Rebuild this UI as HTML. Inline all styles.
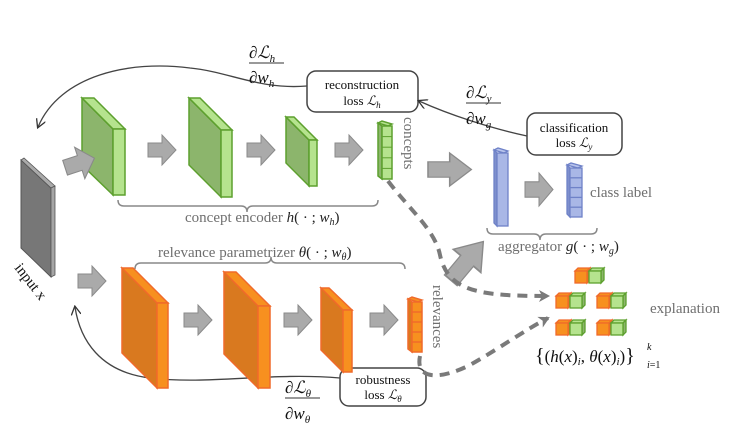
<!DOCTYPE html>
<html><head><meta charset="utf-8"><style>
html,body{margin:0;padding:0;background:#fff}
svg{display:block}
text{font-family:"Liberation Serif",serif}
.g{fill:#6f6f6f}
</style></head><body>
<svg width="743" height="425" viewBox="0 0 743 425" xmlns="http://www.w3.org/2000/svg">
<defs>
<marker id="ah" markerWidth="10" markerHeight="10" refX="8" refY="5" orient="auto" markerUnits="userSpaceOnUse"><path d="M0,0 L9,5 L0,10" fill="none" stroke="#333" stroke-width="1.3"/></marker>
<marker id="dh" markerWidth="12" markerHeight="12" refX="9" refY="6" orient="auto" markerUnits="userSpaceOnUse"><path d="M0,0 L11,6 L0,12 L3,6 Z" fill="#7a7a7a"/></marker>
<g id="arr"><path d="M0,8 H14 V0 L28,15 L14,30 V22 H0 Z" fill="#aaa" stroke="#8a8a8a" stroke-width="1"/></g>
<g id="pair" stroke-width="1.3">
<polygon points="0,3 3,0 15,0 12,3" fill="#f7901f" stroke="#f06a2a"/>
<polygon points="12,3 15,0 15,12 12,15" fill="#d9791f" stroke="#f06a2a"/>
<rect x="0" y="3" width="12" height="12" fill="#f7901f" stroke="#f06a2a"/>
<polygon points="14,3 17,0 29,0 26,3" fill="#b5e38e" stroke="#5da02e"/>
<polygon points="26,3 29,0 29,12 26,15" fill="#8cb56c" stroke="#5da02e"/>
<rect x="14" y="3" width="12" height="12" fill="#b5e38e" stroke="#5da02e"/>
</g>
</defs>

<!-- input slab -->
<polygon points="21,160 51,188 51,277 21,248" fill="#777" stroke="#555" stroke-width="1"/>
<polygon points="21,160 24,158 55,186 51,188" fill="#aaa" stroke="#555" stroke-width="0.8"/>
<polygon points="51,188 55,186 55,275 51,277" fill="#a5a5a5" stroke="#555" stroke-width="0.8"/>
<text x="0" y="0" font-size="15" fill="#111" transform="translate(14,268) rotate(52)">input x</text>

<!-- green layers -->
<g stroke="#5da02e" stroke-width="1.5">
<polygon points="82,98 113,129 113,195 82,165" fill="#8cb56c"/>
<polygon points="82,98 94,98 125,129 113,129" fill="#b5e38e"/>
<rect x="113" y="129" width="12" height="66" fill="#b5e38e"/>
<polygon points="189,98 221,130 221,197 189,165" fill="#8cb56c"/>
<polygon points="189,98 200,98 232,130 221,130" fill="#b5e38e"/>
<rect x="221" y="130" width="11" height="67" fill="#b5e38e"/>
<polygon points="286,117 309,140 309,186 286,163" fill="#8cb56c"/>
<polygon points="286,117 294,117 317,140 309,140" fill="#b5e38e"/>
<rect x="309" y="140" width="8" height="46" fill="#b5e38e"/>
<polygon points="378,123 382,121 392,124 388,126" fill="#b5e38e"/>
<polygon points="378,123 382,126 382,179 378,176" fill="#8cb56c"/>
<rect x="382" y="126" width="10" height="53" fill="#b5e38e"/>
</g>
<g stroke="#5da02e" stroke-width="1"><line x1="382" y1="136.6" x2="392" y2="136.6"/><line x1="382" y1="147.2" x2="392" y2="147.2"/><line x1="382" y1="157.8" x2="392" y2="157.8"/><line x1="382" y1="168.4" x2="392" y2="168.4"/></g>
<text font-size="15" fill="#6f6f6f" transform="translate(404,117) rotate(90)">concepts</text>

<!-- arrows top -->
<use href="#arr" transform="translate(60,152) rotate(-18) scale(1.1)"/>
<use href="#arr" transform="translate(148,135)"/>
<use href="#arr" transform="translate(247,135)"/>
<use href="#arr" transform="translate(335,135)"/>
<use href="#arr" transform="translate(428,153) scale(1.55,1.1)"/>
<use href="#arr" transform="translate(525,173) scale(1,1.1)"/>

<!-- brace concept encoder -->
<path d="M118,200 q0,6 6,6 H241 q6,0 6,6 q0,-6 6,-6 H372 q6,0 6,-6" fill="none" stroke="#888" stroke-width="1.5"/>
<text x="185" y="222" font-size="15" class="g">concept encoder <tspan font-style="italic" fill="#222">h</tspan><tspan fill="#222">( · ; <tspan font-style="italic">w</tspan><tspan font-size="10" font-style="italic" dy="3">h</tspan><tspan dy="-3">)</tspan></tspan></text>

<!-- aggregator -->
<g stroke="#6f82c8" stroke-width="1.3">
<polygon points="494,150 498,148 508,151 504,153" fill="#b8c4ec"/>
<polygon points="494,150 497,153 497,226 494,223" fill="#7f90cc"/>
<rect x="497" y="153" width="11" height="73" fill="#a9b7e6"/>
<polygon points="567,165 571,163 582,166 578,168" fill="#b8c4ec"/>
<polygon points="567,165 570,168 570,217 567,214" fill="#7f90cc"/>
<rect x="570" y="168" width="12" height="49" fill="#a9b7e6"/>
<line x1="570" y1="177.8" x2="582" y2="177.8"/><line x1="570" y1="187.6" x2="582" y2="187.6"/><line x1="570" y1="197.4" x2="582" y2="197.4"/><line x1="570" y1="207.2" x2="582" y2="207.2"/>
</g>
<text x="590" y="197" font-size="15" class="g">class label</text>
<path d="M487,228 q0,6 6,6 H534 q6,0 6,6 q0,-6 6,-6 H591 q6,0 6,-6" fill="none" stroke="#888" stroke-width="1.5"/>
<text x="498" y="251" font-size="15" class="g">aggregator <tspan font-style="italic" fill="#222">g</tspan><tspan fill="#222">( · ; <tspan font-style="italic">w</tspan><tspan font-size="10" font-style="italic" dy="3">g</tspan><tspan dy="-3">)</tspan></tspan></text>

<!-- loss boxes -->
<rect x="307" y="71" width="111" height="41" rx="9" fill="#fff" stroke="#444" stroke-width="1.5"/>
<text x="362" y="89" font-size="13" text-anchor="middle" fill="#111">reconstruction</text>
<text x="362" y="105" font-size="13" text-anchor="middle" fill="#111">loss <tspan font-style="italic">ℒ</tspan><tspan font-size="9" font-style="italic" dy="3">h</tspan></text>
<rect x="527" y="113" width="95" height="42" rx="9" fill="#fff" stroke="#444" stroke-width="1.5"/>
<text x="574" y="132" font-size="13" text-anchor="middle" fill="#111">classification</text>
<text x="574" y="147" font-size="13" text-anchor="middle" fill="#111">loss <tspan font-style="italic">ℒ</tspan><tspan font-size="9" font-style="italic" dy="3">y</tspan></text>
<rect x="340" y="368" width="86" height="38" rx="9" fill="#fff" stroke="#444" stroke-width="1.5"/>
<text x="383" y="384" font-size="13" text-anchor="middle" fill="#111">robustness</text>
<text x="383" y="399" font-size="13" text-anchor="middle" fill="#111">loss <tspan font-style="italic">ℒ</tspan><tspan font-size="9" font-style="italic" dy="3">θ</tspan></text>

<!-- gradient curves -->
<path d="M307,86 C260,90 230,72 190,68 C130,60 60,75 38,127" fill="none" stroke="#444" stroke-width="1.3" marker-end="url(#ah)"/>
<path d="M527,136 C490,128 450,115 419,101" fill="none" stroke="#444" stroke-width="1.3" marker-end="url(#ah)"/>
<path d="M340,378 C270,372 210,385 150,378 C100,372 80,340 75,307" fill="none" stroke="#444" stroke-width="1.3" marker-end="url(#ah)"/>

<!-- fractions -->
<g font-size="17" fill="#111" font-style="italic">
<text x="249" y="58">∂ℒ<tspan font-size="11" dy="4">h</tspan></text>
<line x1="249" y1="63" x2="284" y2="63" stroke="#333" stroke-width="1"/>
<text x="249" y="83">∂w<tspan font-size="11" dy="4">h</tspan></text>
<text x="466" y="98">∂ℒ<tspan font-size="11" dy="4">y</tspan></text>
<line x1="466" y1="103" x2="501" y2="103" stroke="#333" stroke-width="1"/>
<text x="466" y="124">∂w<tspan font-size="11" dy="4">g</tspan></text>
<text x="285" y="393">∂ℒ<tspan font-size="11" dy="4">θ</tspan></text>
<line x1="285" y1="398" x2="320" y2="398" stroke="#333" stroke-width="1"/>
<text x="285" y="419">∂w<tspan font-size="11" dy="4">θ</tspan></text>
</g>

<!-- relevance brace & text -->
<text x="158" y="257" font-size="15" class="g">relevance parametrizer <tspan font-style="italic" fill="#222">θ</tspan><tspan fill="#222">( · ; <tspan font-style="italic">w</tspan><tspan font-size="10" font-style="italic" dy="3">θ</tspan><tspan dy="-3">)</tspan></tspan></text>
<path d="M135,269 q0,-6 6,-6 H265 q6,0 6,-6 q0,6 6,6 H399 q6,0 6,6" fill="none" stroke="#888" stroke-width="1.5"/>

<!-- orange layers -->
<g stroke="#f06a2a" stroke-width="1.5">
<polygon points="122,268 157,303 157,388 122,353" fill="#d9791f"/>
<polygon points="122,268 133,268 168,303 157,303" fill="#f7901f"/>
<rect x="157" y="303" width="11" height="85" fill="#f7901f"/>
<polygon points="224,272 258,306 258,388 224,354" fill="#d9791f"/>
<polygon points="224,272 236,272 270,306 258,306" fill="#f7901f"/>
<rect x="258" y="306" width="12" height="82" fill="#f7901f"/>
<polygon points="321,288 343,310 343,372 321,350" fill="#d9791f"/>
<polygon points="321,288 329,288 352,310 343,310" fill="#f7901f"/>
<rect x="343" y="310" width="9" height="62" fill="#f7901f"/>
<polygon points="408,299 412,297 422,300 418,302" fill="#f7901f"/>
<polygon points="408,299 412,302 412,352 408,349" fill="#d9791f"/>
<rect x="412" y="302" width="10" height="50" fill="#f7901f"/>
<line x1="412" y1="312" x2="422" y2="312"/><line x1="412" y1="322" x2="422" y2="322"/><line x1="412" y1="332" x2="422" y2="332"/><line x1="412" y1="342" x2="422" y2="342"/>
</g>
<text font-size="15" fill="#6f6f6f" transform="translate(433,285) rotate(90)">relevances</text>

<!-- arrows bottom -->
<use href="#arr" transform="translate(78,266)"/>
<use href="#arr" transform="translate(184,305)"/>
<use href="#arr" transform="translate(284,305)"/>
<use href="#arr" transform="translate(370,305)"/>
<use href="#arr" transform="translate(467,261) rotate(-50) translate(-25,-18) scale(1.8,1.2)"/>

<!-- dashed -->
<path d="M388,181 C410,210 435,230 440,255 C448,292 480,296 548,296" fill="none" stroke="#7a7a7a" stroke-width="4" stroke-dasharray="10,7" marker-end="url(#dh)"/>
<path d="M420,356 C415,380 440,380 470,365 C500,348 525,330 548,318" fill="none" stroke="#7a7a7a" stroke-width="4" stroke-dasharray="10,7" marker-end="url(#dh)"/>

<!-- explanation cubes -->
<use href="#pair" transform="translate(575,268)"/>
<use href="#pair" transform="translate(556,293)"/>
<use href="#pair" transform="translate(597,293)"/>
<use href="#pair" transform="translate(556,320)"/>
<use href="#pair" transform="translate(597,320)"/>
<text x="650" y="313" font-size="15" class="g">explanation</text>
<text x="535" y="362" font-size="17" fill="#111"><tspan font-size="20">{</tspan>(<tspan font-style="italic">h</tspan>(<tspan font-style="italic">x</tspan>)<tspan font-size="11" font-style="italic" dy="3">i</tspan><tspan dy="-3">, </tspan><tspan font-style="italic">θ</tspan>(<tspan font-style="italic">x</tspan>)<tspan font-size="11" font-style="italic" dy="3">i</tspan><tspan dy="-3">)</tspan><tspan font-size="20">}</tspan></text>
<text x="647" y="350" font-size="10" font-style="italic" fill="#111">k</text>
<text x="647" y="368" font-size="10" fill="#111"><tspan font-style="italic">i</tspan>=1</text>
</svg>
</body></html>
